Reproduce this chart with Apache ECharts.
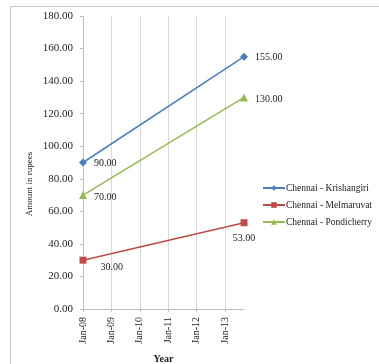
<!DOCTYPE html>
<html>
<head>
<meta charset="utf-8">
<script src="https://cdn.jsdelivr.net/npm/echarts@6/dist/echarts.min.js"></script>
<style>
  html, body { margin: 0; padding: 0; background: #fff; }
  #chart { width: 379px; height: 364px; }
</style>
</head>
<body>
<div id="chart"></div>
<script>
// Observation dates (year-month) and fares for each route
const dates = ['2008-01', '2013-09'];
const tickYears = ['08', '09', '10', '11', '12', '13'];
const seriesNames = ['Chennai - Krishangiri', 'Chennai - Melmaruvat', 'Chennai - Pondicherry'];
const krishangiri = [90, 155];
const melmaruvat = [30, 53];
const pondicherry = [70, 130];

const FONT = 'Liberation Serif';
const TEXT = '#222';

// months elapsed since Jan-08, used as the x value
function monthIndex(d) {
  const [y, m] = d.split('-').map(Number);
  return (y - 2008) * 12 + (m - 1);
}
const xs = dates.map(monthIndex);
const pairs = vals => vals.map((v, i) => [xs[i], v]);

const labelBase = {
  show: true,
  fontFamily: FONT,
  fontSize: 10,
  color: TEXT,
  formatter: p => p.value[1].toFixed(2)
};

const chart = echarts.init(document.getElementById('chart'), null, { renderer: 'canvas' });
chart.setOption({
  animation: false,
  backgroundColor: '#fff',
  color: ['#4a7ebb', '#be4b48', '#98b954'],
  grid: { left: 83, top: 16, right: 135, bottom: 55, outerBoundsMode: 'none', containLabel: false },
  graphic: [
    {
      type: 'rect',
      shape: { x: 10.5, y: 6.5, width: 400, height: 400 },
      style: { fill: 'none', stroke: '#c8c8c8', lineWidth: 1 },
      silent: true
    },
    {
      type: 'text',
      x: 30, y: 184,
      rotation: Math.PI / 2,
      style: {
        text: 'Amount in rupees',
        font: '9px "Liberation Serif"',
        fill: TEXT,
        align: 'center',
        verticalAlign: 'middle'
      }
    }
  ],
  legend: {
    orient: 'vertical',
    left: 257,
    top: 178,
    itemWidth: 22,
    itemHeight: 7,
    itemGap: 7,
    textStyle: { fontFamily: FONT, fontSize: 9.5, color: TEXT, padding: [0, 0, 0, -4] },
    data: seriesNames
  },
  xAxis: {
    type: 'value',
    min: 0,
    max: xs[xs.length - 1],
    interval: 12,
    name: 'Year',
    nameLocation: 'middle',
    nameGap: 45,
    nameTextStyle: { fontFamily: FONT, fontSize: 10, fontWeight: 'bold', color: TEXT },
    axisLine: { lineStyle: { color: '#bdbdbd', width: 1 } },
    axisTick: { show: true, length: 3, lineStyle: { color: '#bdbdbd' } },
    axisLabel: {
      rotate: 90,
      margin: 8,
      showMaxLabel: false,
      fontFamily: FONT,
      fontSize: 10,
      color: TEXT,
      formatter: v => (v % 12 === 0 && v / 12 < tickYears.length) ? 'Jan-' + tickYears[v / 12] : ''
    },
    splitLine: {
      show: true,
      showMinLine: false,
      showMaxLine: false,
      lineStyle: { color: '#d9d9d9', width: 1 }
    }
  },
  yAxis: {
    type: 'value',
    min: 0,
    max: 180,
    interval: 20,
    axisLine: { show: true, lineStyle: { color: '#bdbdbd', width: 1 } },
    axisTick: { show: true, length: 3, lineStyle: { color: '#bdbdbd' } },
    axisLabel: {
      margin: 10,
      fontFamily: FONT,
      fontSize: 11,
      color: TEXT,
      formatter: v => v.toFixed(2)
    },
    splitLine: { show: false }
  },
  series: [
    {
      name: seriesNames[0],
      type: 'line',
      data: pairs(krishangiri),
      symbol: 'diamond',
      symbolSize: 8,
      lineStyle: { width: 1.5 },
      label: Object.assign({}, labelBase, { position: 'right', distance: 7, offset: [0, 1] })
    },
    {
      name: seriesNames[1],
      type: 'line',
      data: pairs(melmaruvat).map((d, i) => ({
        value: d,
        label: i === 0
          ? { position: 'right', distance: 14, offset: [0, 7] }
          : { position: 'bottom', distance: 7 }
      })),
      symbol: 'rect',
      symbolSize: 7,
      lineStyle: { width: 1.5 },
      label: labelBase
    },
    {
      name: seriesNames[2],
      type: 'line',
      data: pairs(pondicherry),
      symbol: 'triangle',
      symbolSize: 8,
      lineStyle: { width: 1.5 },
      label: Object.assign({}, labelBase, { position: 'right', distance: 7, offset: [0, 2] })
    }
  ]
});
</script>
</body>
</html>
